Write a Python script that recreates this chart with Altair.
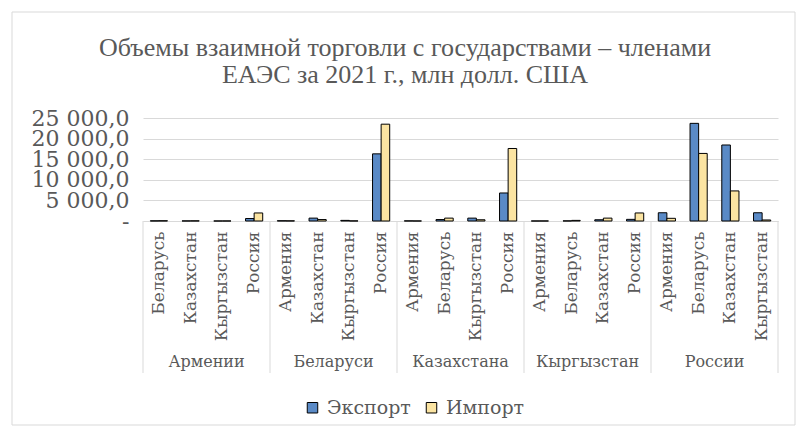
import altair as alt
import pandas as pd

groups = ["Армении", "Беларуси", "Казахстана", "Кыргызстан", "России"]
partners = [
    ["Беларусь", "Казахстан", "Кыргызстан", "Россия"],
    ["Армения", "Казахстан", "Кыргызстан", "Россия"],
    ["Армения", "Беларусь", "Кыргызстан", "Россия"],
    ["Армения", "Беларусь", "Казахстан", "Россия"],
    ["Армения", "Беларусь", "Казахстан", "Кыргызстан"],
]
export_vals = [
    [40, 20, 5, 600],
    [60, 700, 150, 16300],
    [30, 350, 700, 6800],
    [5, 30, 300, 400],
    [2000, 23700, 18450, 2000],
]
import_vals = [
    [60, 40, 10, 1950],
    [40, 350, 30, 23500],
    [10, 700, 300, 17600],
    [10, 150, 700, 1950],
    [650, 16400, 7300, 250],
]
flows = ["Экспорт", "Импорт"]
y_ticks = [0, 5000, 10000, 15000, 20000, 25000]
title_lines = ["Объемы взаимной торговли с государствами – членами",
               "ЕАЭС за 2021 г., млн долл. США"]

BLUE = "#5A8AC6"
YELLOW = "#FBE4A2"
GREY = "#595959"
LINE = "#D9D9D9"
FONT = "DejaVu Serif"

rows, keys = [], []
for g, ps, ev, iv in zip(groups, partners, export_vals, import_vals):
    for p, e, i in zip(ps, ev, iv):
        k = g + "|" + p
        keys.append(k)
        rows.append({"key": k, "flow": flows[0], "value": e})
        rows.append({"key": k, "flow": flows[1], "value": i})
df = pd.DataFrame(rows)

grp_df = pd.DataFrame({"key": [g + "|" + ps[1] for g, ps in zip(groups, partners)],
                       "label": groups})
sep_left = pd.DataFrame({"key": [g + "|" + ps[0] for g, ps in zip(groups, partners)]})
sep_right = pd.DataFrame({"key": [keys[-1]]})
one = pd.DataFrame({"a": [0]})

W, H = 635, 103
xscale = alt.Scale(domain=keys, paddingInner=0, paddingOuter=0)

bars = alt.Chart(df).mark_bar(stroke="black", strokeWidth=1).encode(
    x=alt.X("key:N", scale=xscale, title=None, sort=keys),
    xOffset=alt.XOffset("flow:N", sort=flows,
                        scale=alt.Scale(domain=flows, paddingInner=0, paddingOuter=0.85)),
    y=alt.Y("value:Q", scale=alt.Scale(domain=[0, 25000], nice=False),
            title=None, axis=alt.Axis(values=y_ticks)),
    color=alt.Color("flow:N", sort=flows,
                    scale=alt.Scale(domain=flows, range=[BLUE, YELLOW]),
                    legend=alt.Legend(title=None, orient="none", legendX=160, legendY=280,
                                      direction="horizontal", symbolType="square",
                                      symbolSize=110, symbolStrokeColor="black",
                                      symbolStrokeWidth=1, labelFont=FONT,
                                      labelFontSize=19, labelColor=GREY,
                                      columnPadding=11, labelOffset=5)),
)

grp_text = alt.Chart(grp_df).mark_text(font=FONT, fontSize=16, color=GREY,
                                       baseline="middle", align="center").encode(
    x=alt.X("key:N", scale=xscale, bandPosition=1, title=None),
    y=alt.value(H + 141),
    text="label:N",
)

rule_l = alt.Chart(sep_left).mark_rule(color=LINE, strokeWidth=1).encode(
    x=alt.X("key:N", scale=xscale, bandPosition=0, title=None),
    y=alt.value(H), y2=alt.value(H + 152),
)
rule_r = alt.Chart(sep_right).mark_rule(color=LINE, strokeWidth=1).encode(
    x=alt.X("key:N", scale=xscale, bandPosition=1, title=None),
    y=alt.value(H), y2=alt.value(H + 152),
)

border = alt.Chart(one).mark_rect(fill="transparent", stroke=LINE, strokeWidth=1).encode(
    x=alt.value(-131), x2=alt.value(652), y=alt.value(-106), y2=alt.value(307),
)

title = alt.Chart(one).mark_text(font="Liberation Serif", fontSize=26, color=GREY,
                                 align="center", baseline="middle", lineHeight=27).encode(
    x=alt.value(262), y=alt.value(-70), text=alt.value(title_lines),
)

chart = alt.layer(border, title, bars, grp_text, rule_l, rule_r).properties(
    width=W, height=H,
    padding={"left": 135, "top": 110, "right": 18, "bottom": 211},
    autosize=alt.AutoSizeParams(type="none"),
).configure_view(stroke=None).configure_axisX(
    domainColor=LINE, ticks=False, labelAngle=270, labelAlign="right",
    labelBaseline="middle", labelPadding=10, labelFont=FONT, labelFontSize=17,
    labelColor=GREY, labelOverlap=False, labelLimit=300,
    labelExpr="substring(datum.label, indexof(datum.label, '|') + 1)",
).configure_axisY(
    grid=True, gridColor=LINE, domain=False, ticks=False, labelPadding=14,
    labelFont=FONT, labelFontSize=22, labelColor=GREY, labelOverlap=False,
    labelExpr="datum.value == 0 ? '-' : replace(replace(format(datum.value, ',.1f'), ',', ' '), '.', ',')",
)

chart.save("out.html", embed_options={"renderer": "svg", "actions": False})
